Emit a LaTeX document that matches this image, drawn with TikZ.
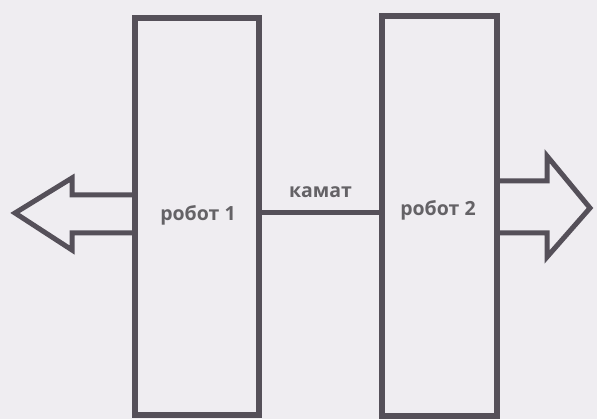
\documentclass[tikz,border=0pt]{standalone}
\usepackage{fontspec}
\setmainfont{Open Sans}
\definecolor{bg}{HTML}{EFEDF1}
\definecolor{ln}{HTML}{555059}
\definecolor{tx}{HTML}{646266}
\begin{document}
\begin{tikzpicture}[x=1pt,y=-1pt,
  robot/.style={draw=ln,line width=6pt,inner sep=0pt,outer sep=0pt},
  bigarrow/.style={draw=ln,line width=5pt,line join=miter},
  lbl/.style={text=tx,font=\fontsize{19.5}{21}\selectfont\bfseries,inner sep=0pt}]
\fill[bg] (0,0) rectangle (597,419);
\useasboundingbox (0,0) rectangle (597,419);
\node[robot,minimum width=124pt,minimum height=397pt] (b1) at (197,216.5) {};
\node[robot,minimum width=115pt,minimum height=400pt] (b2) at (439.5,216) {};
\node[lbl] (t1) at (198,215) {робот 1};
\node[lbl] (t2) at (438,210) {робот 2};
\draw[ln,line width=5pt] (b1.east |- 0,213) -- node[lbl,above=13pt] (k) {камат} (b2.west |- 0,213);
\draw[bigarrow] (b1.west |- 0,195) -- (72,195) -- (72,178) -- (15,213) -- (72,250) -- (72,233) -- (b1.west |- 0,233);
\draw[bigarrow] (b2.east |- 0,181) -- (547,181) -- (547,156) -- (590,208) -- (547,257) -- (547,233) -- (b2.east |- 0,233);
\end{tikzpicture}
\end{document}
